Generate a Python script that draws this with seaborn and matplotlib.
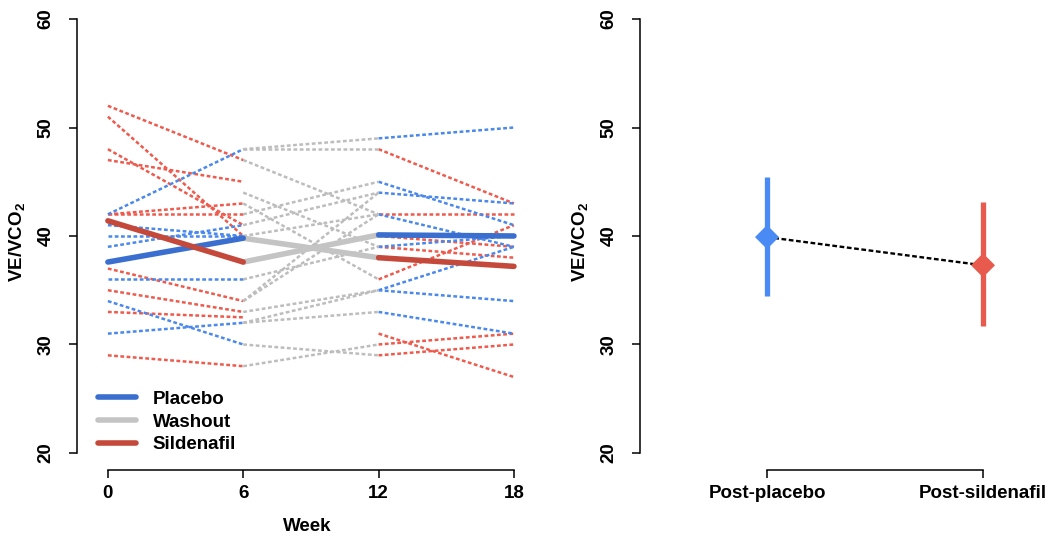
import pandas as pd
import matplotlib
matplotlib.use("Agg")
import matplotlib.pyplot as plt
from matplotlib.lines import Line2D
import seaborn as sns

# weeks of the crossover study
weeks = [0, 6, 12, 18]
phases = ["Placebo", "Washout", "Sildenafil"]

# individual patients, start / end value of each period
p1_placebo_start = [42, 41, 40, 39, 36, 34, 31]
p1_placebo_end = [48, 40, 40, 41, 36, 30, 32]
p1_sildenafil_start = [52, 51, 48, 47, 42, 42, 37, 35, 33, 29]
p1_sildenafil_end = [47, 40, 41, 45, 43, 42, 34, 33, 32.5, 28]
washout_start = [48, 48, 47, 44, 43, 42, 41, 40, 36, 34, 34, 33, 32, 32, 30, 28]
washout_end = [49, 48, 42, 39, 36, 45, 44, 42, 39, 44, 42, 35, 35, 33, 29, 30]
p3_placebo_start = [49, 45, 44, 42, 39, 35, 35, 33]
p3_placebo_end = [50, 41, 43, 39, 40, 39, 34, 31]
p3_sildenafil_start = [48, 42, 40, 39, 36, 31, 30, 29]
p3_sildenafil_end = [43, 42, 39, 38, 41, 27, 31, 30]

# group means at each week
mean_placebo_first = [37.6, 39.8, 38.0, 37.2]
mean_sildenafil_first = [41.4, 37.6, 40.1, 40.0]
order_placebo_first = ["Placebo", "Washout", "Sildenafil"]
order_sildenafil_first = ["Sildenafil", "Washout", "Placebo"]

# right panel: mean and 95% CI
post_labels = ["Post-placebo", "Post-sildenafil"]
post_mean = [39.9, 37.3]
post_low = [34.5, 31.7]
post_high = [45.4, 43.1]

dash_pal = {"Placebo": "#4a88ec", "Washout": "#bdbdbd", "Sildenafil": "#ee5a4c"}
bold_pal = {"Placebo": "#3a6fcf", "Washout": "#c4c4c4", "Sildenafil": "#c5493b"}
post_pal = ["#4a8af4", "#e85a4d"]

sns.set_style("ticks", {"axes.edgecolor": "black", "text.color": "black",
                        "xtick.color": "black", "ytick.color": "black",
                        "axes.labelcolor": "black"})
plt.rcParams["font.family"] = ["Liberation Sans", "DejaVu Sans"]
plt.rcParams["font.weight"] = "bold"
plt.rcParams["axes.labelweight"] = "bold"
plt.rcParams["mathtext.default"] = "regular"
plt.rcParams["font.size"] = 13.5


def segments(starts, ends, w0, w1, phase, first_id):
    rows = []
    for i, (a, b) in enumerate(zip(starts, ends)):
        rows.append({"seg": first_id + i, "phase": phase, "week": w0, "value": a})
        rows.append({"seg": first_id + i, "phase": phase, "week": w1, "value": b})
    return rows


rows = []
rows += segments(p1_placebo_start, p1_placebo_end, weeks[0], weeks[1], "Placebo", 0)
rows += segments(p1_sildenafil_start, p1_sildenafil_end, weeks[0], weeks[1], "Sildenafil", 100)
rows += segments(p3_placebo_start, p3_placebo_end, weeks[2], weeks[3], "Placebo", 200)
rows += segments(p3_sildenafil_start, p3_sildenafil_end, weeks[2], weeks[3], "Sildenafil", 300)
rows += segments(washout_start, washout_end, weeks[1], weeks[2], "Washout", 400)
seg_df = pd.DataFrame(rows)

mean_rows = []
for g, (means, order) in enumerate([(mean_placebo_first, order_placebo_first),
                                    (mean_sildenafil_first, order_sildenafil_first)]):
    for k, ph in enumerate(order):
        mean_rows += segments([means[k]], [means[k + 1]], weeks[k], weeks[k + 1], ph, 10 * g + k)
mean_df = pd.DataFrame(mean_rows)

fig = plt.figure(figsize=(10.5, 5.39), dpi=100)
W, H = 1050, 539
ylo, yhi = 18.43, 60.5
ax1 = fig.add_axes([77 / W, 1 - 470 / H, 459.5 / W, (470 - 13.6) / H])
ax2 = fig.add_axes([640 / W, 1 - 470 / H, 407.8 / W, (470 - 13.6) / H])

sns.lineplot(data=seg_df, x="week", y="value", hue="phase", units="seg", estimator=None,
             palette=dash_pal, hue_order=["Sildenafil", "Placebo", "Washout"],
             linewidth=1.8, linestyle=(0, (1.5, 1.0)), legend=False, ax=ax1)
sns.lineplot(data=mean_df, x="week", y="value", hue="phase", units="seg", estimator=None,
             palette=bold_pal, hue_order=["Washout", "Placebo", "Sildenafil"],
             linewidth=4, solid_capstyle="round", legend=False, ax=ax1)

ax1.set_xlim(-1.37, 19.0)
ax1.set_ylim(ylo, yhi)
ax1.set_xticks(weeks)
ax1.set_yticks([20, 30, 40, 50, 60])
ax1.set_xlabel("Week", labelpad=11)
ax1.set_ylabel("VE/VCO$_2$", labelpad=8)
ax1.spines["left"].set_bounds(20, 60)
ax1.spines["bottom"].set_bounds(weeks[0], weeks[-1])

handles = [Line2D([], [], color=bold_pal[p], lw=4) for p in phases]
ax1.legend(handles, phases, loc="lower left", bbox_to_anchor=(0.03, 0.02), frameon=False,
           handlelength=2.0, handletextpad=0.9, labelspacing=0.3, borderaxespad=0,
           prop={"size": 13.5, "weight": "bold"})

# right panel
post_x = list(range(len(post_labels)))
sns.lineplot(x=post_x, y=post_mean, color="black", linewidth=1.7,
             linestyle=(0, (2.0, 1.1)), ax=ax2)
ax2.vlines(post_x, post_low, post_high, colors=post_pal, linewidth=3.8)
sns.scatterplot(x=post_x, y=post_mean, hue=post_labels, palette=post_pal, marker="D",
                s=150, linewidth=0, legend=False, ax=ax2, zorder=3)
ax2.set_xlim(-0.588, 1.3)
ax2.set_ylim(ylo, yhi)
ax2.set_xticks(post_x)
ax2.set_xticklabels(post_labels)
ax2.set_yticks([20, 30, 40, 50, 60])
ax2.set_ylabel("VE/VCO$_2$", labelpad=8)
ax2.set_xlabel("")
ax2.spines["left"].set_bounds(20, 60)
ax2.spines["bottom"].set_bounds(post_x[0], post_x[-1])

for ax in (ax1, ax2):
    sns.despine(ax=ax)
    ax.tick_params(length=6, width=1.1, pad=5, labelsize=13.5)
    ax.tick_params(axis="y", labelrotation=90, pad=10)
    for t in ax.get_yticklabels():
        t.set_va("center")
    for s in ("left", "bottom"):
        ax.spines[s].set_linewidth(1.1)

fig.savefig("out.png", dpi=100)
